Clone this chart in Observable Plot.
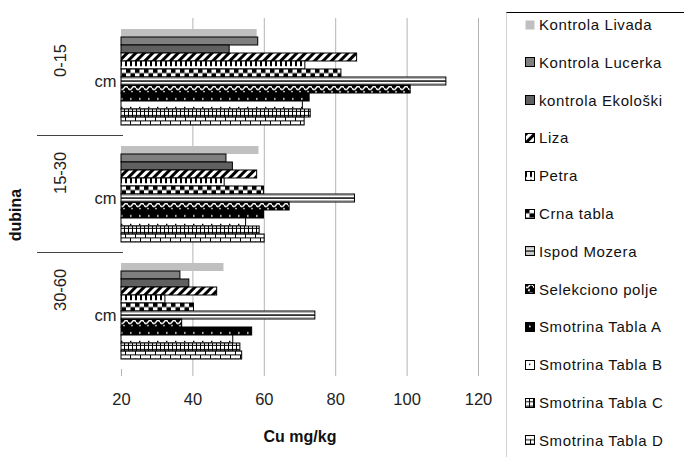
<!DOCTYPE html>
<html><head><meta charset="utf-8">
<script src="https://cdn.jsdelivr.net/npm/d3@7"></script>
<script src="https://cdn.jsdelivr.net/npm/@observablehq/plot@0.6"></script>
<style>
body{margin:0;background:#fff;font-family:"Liberation Sans",Arial,sans-serif;}
#wrap{position:relative;width:684px;height:457px;overflow:hidden;background:#fff;}
#chart{position:absolute;left:0;top:0;}
.lab{position:absolute;white-space:nowrap;color:#111;font-weight:bold;font-size:16px;transform:translate(-50%,-50%);}
#ytitle{transform:translate(-50%,-50%) rotate(-90deg);}
#legend{position:absolute;left:506px;top:12px;width:178px;height:445px;border-top:1px solid #000;border-left:1px solid #d4d4d4;}
.item{position:absolute;left:18px;height:18px;display:flex;align-items:center;font-size:15px;letter-spacing:0.6px;color:#111;white-space:nowrap;}
.item svg{margin-right:4px;flex:none;}
</style></head><body>
<div id="wrap">
<svg width="0" height="0" style="position:absolute"><defs>
<pattern id="pLiza" patternUnits="userSpaceOnUse" width="6" height="6" patternTransform="rotate(45)"><rect width="6" height="6" fill="#fff"/><rect width="3" height="6" fill="#000"/></pattern>
<pattern id="pPetra" patternUnits="userSpaceOnUse" width="5" height="8.6"><rect width="5" height="8.6" fill="#fff"/><rect width="2" height="8.6" fill="#000"/><rect y="6" width="5" height="2.6" fill="#fff"/></pattern>
<pattern id="pCrna" patternUnits="userSpaceOnUse" width="9" height="8.6"><rect width="9" height="8.6" fill="#fff"/><rect width="4.5" height="4.3" fill="#000"/><rect x="4.5" y="4.3" width="4.5" height="4.3" fill="#000"/></pattern>
<pattern id="pIspod" patternUnits="objectBoundingBox" patternContentUnits="objectBoundingBox" width="1" height="1"><rect width="1" height="1" fill="#fff"/><rect y="0.08" width="1" height="0.12" fill="#888"/><rect y="0.42" width="1" height="0.18" fill="#000"/><rect y="0.8" width="1" height="0.12" fill="#888"/></pattern>
<pattern id="pSel" patternUnits="userSpaceOnUse" width="8" height="8.6"><rect width="8" height="8.6" fill="#000"/><path d="M0,2 Q2,5 4,2 Q6,-1 8,2" stroke="#fff" stroke-width="1.6" fill="none"/><circle cx="4" cy="6.2" r="1.1" fill="#fff"/></pattern>
<pattern id="pA" patternUnits="userSpaceOnUse" width="9" height="8.6"><rect width="9" height="8.6" fill="#000"/><rect x="4" y="3.6" width="1.6" height="1.6" fill="#fff"/></pattern>
<pattern id="pB" patternUnits="userSpaceOnUse" width="9" height="8.6"><rect width="9" height="8.6" fill="#fff"/><rect x="4" y="3.6" width="1.4" height="1.4" fill="#000"/></pattern>
<pattern id="pC" patternUnits="userSpaceOnUse" width="12" height="4.3"><rect width="12" height="4.3" fill="#fff"/><rect y="3.3" width="12" height="1" fill="#000"/><rect x="0" width="1" height="4.3" fill="#000"/><rect x="4" width="1" height="4.3" fill="#000"/><rect x="8" width="1" height="4.3" fill="#000"/></pattern>
<pattern id="pD" patternUnits="userSpaceOnUse" width="10" height="8.6"><rect width="10" height="8.6" fill="#fff"/><rect width="10" height="1" fill="#000"/><rect y="4.3" width="10" height="1" fill="#000"/><rect x="0" y="0" width="1" height="4.3" fill="#000"/><rect x="5" y="4.3" width="1" height="4.3" fill="#000"/></pattern>
</defs></svg>
<div id="chart"></div>
<div class="lab" id="ytitle" style="left:16px;top:215px;">dubina</div>
<div class="lab" id="xtitle" style="left:300px;top:437px;">Cu mg/kg</div>
<div id="legend"></div>
</div>
<script>
// ---- data ----
const depths = ["0-15 cm", "15-30 cm", "30-60 cm"];
const series = ["Kontrola Livada", "Kontrola Lucerka", "kontrola Ekološki", "Liza", "Petra", "Crna tabla",
  "Ispod Mozera", "Selekciono polje", "Smotrina Tabla A", "Smotrina Tabla B", "Smotrina Tabla C", "Smotrina Tabla D"];
const values0_15  = [58.0, 58.3, 50.3, 86.0, 71.5, 81.6, 111.0, 101.0, 72.7, 70.8, 73.0, 71.3];
const values15_30 = [58.5, 49.4, 51.2, 58.0, 48.9, 59.9, 85.4, 67.1, 59.9, 54.9, 58.7, 60.1];
const values30_60 = [48.7, 36.5, 39.0, 46.8, 32.3, 40.3, 74.3, 37.0, 56.6, 51.3, 53.3, 53.8];
const xTicks = [20, 40, 60, 80, 100, 120];
const baseline = 20;
const xTitle = "Cu mg/kg";
const yTitle = "dubina";

// ---- styles ----
const seriesFills = ["#c0c0c0", "#7f7f7f", "#606060", "url(#pLiza)", "url(#pPetra)", "url(#pCrna)",
  "url(#pIspod)", "url(#pSel)", "url(#pA)", "url(#pB)", "url(#pC)", "url(#pD)"];

const valueSets = [values0_15, values15_30, values30_60];
const rows = [];
depths.forEach((dep, j) => series.forEach((s, i) => rows.push({depth: dep, series: s, value: valueSets[j][i]})));

const chart = Plot.plot({
  width: 506, height: 457,
  marginLeft: 121, marginRight: 28, marginTop: 18, marginBottom: 88,
  style: {fontFamily: "'Liberation Sans', Arial, sans-serif", fontSize: "16px", color: "#222", background: "transparent"},
  x: {domain: [20, 120], axis: null},
  y: {domain: series, paddingInner: 0, paddingOuter: 0.82, axis: null},
  fy: {domain: depths, padding: 0, axis: null},
  color: {domain: series, range: seriesFills},
  marks: [
    Plot.gridX(xTicks.slice(1), {stroke: "#b4b4b4", strokeOpacity: 1}),
    Plot.barX(rows, {filter: d => d.series === series[0], x1: baseline, x2: "value", y: "series", fy: "depth", fill: "series"}),
    Plot.barX(rows, {filter: d => d.series !== series[0], x1: baseline, x2: "value", y: "series", fy: "depth", fill: "series", stroke: "#000", strokeWidth: 1}),
    Plot.axisX(xTicks, {tickSize: 7, tickPadding: 17, stroke: "#b4b4b4", fill: "#222", fontSize: 16.5, label: null}),
    Plot.text(depths, {fy: d => d, text: d => d.split(" ")[0], frameAnchor: "left", rotate: -90, dx: -61, fontSize: 16.5, fill: "#222"}),
    Plot.text(depths, {fy: d => d, text: d => d.split(" ")[1], frameAnchor: "left", dx: -27, dy: 5, fontSize: 16.5, fill: "#222"}),
    Plot.frame({anchor: "top", fy: [depths[1]], insetLeft: -84, insetRight: 356, stroke: "#444"}),
    Plot.frame({anchor: "top", fy: [depths[2]], insetLeft: -84, insetRight: 356, stroke: "#444"})
  ]
});
document.getElementById("chart").appendChild(chart);
document.getElementById("xtitle").textContent = xTitle;
document.getElementById("ytitle").textContent = yTitle;

// ---- legend ----
const legend = document.getElementById("legend");
series.forEach((s, i) => {
  const item = document.createElement("div");
  item.className = "item";
  item.style.top = (24.5 + i * 37.8 - 13 - 9) + "px";
  const stroke = i === 0 ? "none" : "#000";
  item.innerHTML = `<svg width="10" height="10"><rect x="0.5" y="0.5" width="9" height="9" fill="${seriesFills[i]}" stroke="${stroke}"/></svg>`;
  const t = document.createElement("span");
  t.textContent = s;
  item.appendChild(t);
  legend.appendChild(item);
});
</script>
</body></html>
